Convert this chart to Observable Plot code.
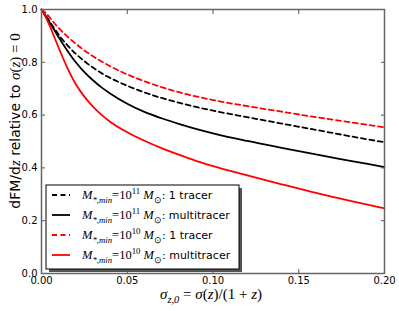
<!DOCTYPE html>
<html><head><meta charset="utf-8">
<script src="https://cdn.jsdelivr.net/npm/d3@7"></script>
<script src="https://cdn.jsdelivr.net/npm/@observablehq/plot@0.6"></script>
<style>body{margin:0;background:#fff}</style>
</head><body><div id="chart"></div>
<script>
// sigma_{z,0} grid
const sigma = [0, 0.0025, 0.005, 0.0075, 0.01, 0.015, 0.02, 0.025, 0.03, 0.035, 0.04, 0.05, 0.06, 0.07, 0.08, 0.09, 0.10, 0.12, 0.14, 0.16, 0.18, 0.20];
// M*,min = 1e11, 1 tracer (black dashed)
const m11Single = [1.0, 0.977, 0.952, 0.928, 0.905, 0.865, 0.832, 0.804, 0.780, 0.759, 0.741, 0.711, 0.686, 0.665, 0.647, 0.631, 0.617, 0.592, 0.568, 0.544, 0.520, 0.497];
// M*,min = 1e11, multitracer (black solid)
const m11Multi = [1.0, 0.975, 0.948, 0.922, 0.895, 0.845, 0.800, 0.763, 0.732, 0.705, 0.682, 0.643, 0.612, 0.588, 0.567, 0.548, 0.531, 0.502, 0.476, 0.451, 0.427, 0.403];
// M*,min = 1e10, 1 tracer (red dashed)
const m10Single = [1.0, 0.987, 0.968, 0.948, 0.930, 0.898, 0.870, 0.845, 0.823, 0.803, 0.785, 0.754, 0.728, 0.706, 0.687, 0.671, 0.657, 0.634, 0.613, 0.592, 0.573, 0.554];
// M*,min = 1e10, multitracer (red solid)
const m10Multi = [1.0, 0.97, 0.935, 0.895, 0.855, 0.78, 0.717, 0.670, 0.632, 0.601, 0.575, 0.535, 0.503, 0.475, 0.450, 0.427, 0.407, 0.372, 0.338, 0.305, 0.275, 0.247];

const seriesMass = ["11", "11", "10", "10"];
const seriesKind = ["1 tracer", "multitracer", "1 tracer", "multitracer"];
const seriesValues = [m11Single, m11Multi, m10Single, m10Multi];
const seriesColor = ["#000000", "#000000", "#ff0000", "#ff0000"];
const seriesDash = ["5,3.5", null, "5,3.5", null];

const xTicks = [0, 0.05, 0.10, 0.15, 0.20];
const yTicks = [0, 0.2, 0.4, 0.6, 0.8, 1.0];

const tables = seriesValues.map(vals => sigma.map((s, i) => ({x: s, y: vals[i]})));

const lineMarks = tables.map((t, k) => Plot.line(t, {
  x: "x", y: "y", stroke: seriesColor[k], strokeWidth: 1.8,
  strokeDasharray: seriesDash[k] ?? undefined, curve: "monotone-x"
}));

const blank = () => "";
const plot = Plot.plot({
  width: 399, height: 311,
  marginLeft: 41, marginRight: 15, marginTop: 9, marginBottom: 38,
  style: {fontFamily: "DejaVu Sans", fontSize: "10px", color: "#000", background: "#fff"},
  x: {domain: [0, 0.2]},
  y: {domain: [0, 1]},
  marks: [
    ...lineMarks,
    Plot.axisX(xTicks, {anchor: "bottom", tickSize: -4, tickPadding: 7, tickFormat: d3.format(".2f"), label: null, stroke: "#555"}),
    Plot.axisX(xTicks, {anchor: "top", tickSize: -4, tickFormat: blank, label: null, stroke: "#555"}),
    Plot.axisY(yTicks, {anchor: "left", tickSize: -4, tickPadding: 8, tickFormat: d3.format(".1f"), label: null, stroke: "#555"}),
    Plot.axisY(yTicks, {anchor: "right", tickSize: -4, tickFormat: blank, label: null, stroke: "#555"}),
    Plot.frame({stroke: "#666", strokeWidth: 1.5})
  ]
});
document.getElementById("chart").appendChild(plot);

const svg = d3.select(plot);

function rich(sel, pieces, base) {
  let shift = 0;
  for (const p of pieces) {
    const target = p.pos === "sub" ? base * 0.28 : p.pos === "sup" ? -base * 0.4 : 0;
    const ts = sel.append("tspan").text(p.s).attr("dy", target - shift);
    shift = target;
    ts.attr("font-size", p.pos ? base * 0.7 : base);
    if (p.f === "sans") ts.attr("font-family", "DejaVu Sans").attr("font-style", "normal").attr("font-size", p.size || base);
    else ts.attr("font-family", "Liberation Serif").attr("font-style", p.i ? "italic" : "normal");
  }
}

// x label
const xl = svg.append("text").attr("x", 211).attr("y", 299).attr("text-anchor", "middle").attr("fill", "#000");
rich(xl, [
  {s: "σ", i: true}, {s: "z,0", i: true, pos: "sub"}, {s: " = "}, {s: "σ", i: true}, {s: "("}, {s: "z", i: true},
  {s: ")/(1 + "}, {s: "z", i: true}, {s: ")"}
], 15);

// y label
const yl = svg.append("text").attr("transform", "translate(20,121) rotate(-90)").attr("text-anchor", "middle").attr("fill", "#000");
rich(yl, [
  {s: "dFM/d", f: "sans", size: 14}, {s: "z", i: true}, {s: " relative to ", f: "sans", size: 14},
  {s: "σ", i: true}, {s: "("}, {s: "z", i: true}, {s: ") = 0"}
], 15);

// legend
const lg = svg.append("g").attr("text-anchor", "start");
lg.append("rect").attr("x", 49).attr("y", 188).attr("width", 193).attr("height", 84).attr("fill", "#555");
lg.append("rect").attr("x", 46).attr("y", 185).attr("width", 193).attr("height", 84).attr("fill", "#fff").attr("stroke", "#000").attr("stroke-width", 1);
seriesKind.forEach((kind, k) => {
  const cy = 195 + k * 20;
  lg.append("line").attr("x1", 52).attr("x2", 70).attr("y1", cy).attr("y2", cy)
    .attr("stroke", seriesColor[k]).attr("stroke-width", 1.8).attr("stroke-dasharray", seriesDash[k]);
  const t = lg.append("text").attr("x", 82).attr("y", cy + 4).attr("fill", "#000").attr("text-anchor", "start");
  rich(t, [
    {s: "M", i: true}, {s: "*,min", i: true, pos: "sub"}, {s: "=10"}, {s: seriesMass[k], pos: "sup"},
    {s: " M", i: true}, {s: "⊙", pos: "sub"}, {s: ": " + kind, f: "sans", size: 11}
  ], 12.5);
});
</script>
</body></html>
